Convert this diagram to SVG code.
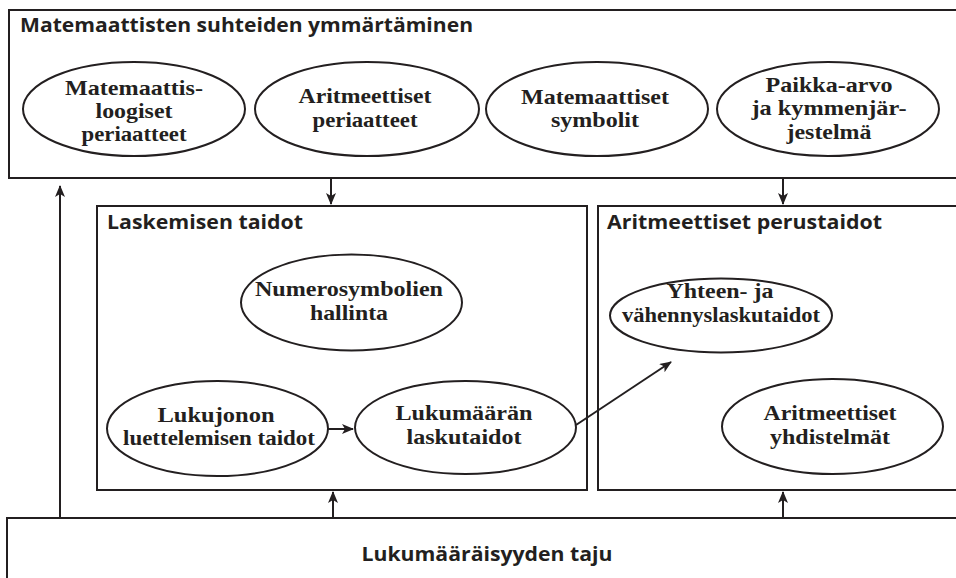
<svg xmlns="http://www.w3.org/2000/svg" width="956" height="578" viewBox="0 0 956 578">
<style>
.box{fill:#fff;stroke:#231f20;stroke-width:2}
.ell{fill:#fff;stroke:#231f20;stroke-width:2}
.ttl{font-family:"Open Sans","Liberation Sans",sans-serif;font-weight:700;font-size:19px;fill:#231f20}
.lbl{font-family:"Liberation Serif","Times New Roman",serif;font-weight:700;font-size:21.5px;fill:#231f20;text-anchor:middle}
.con{stroke:#231f20;stroke-width:2;fill:none;marker-end:url(#ah)}
</style>
<defs>
<marker id="ah" markerWidth="12" markerHeight="10" refX="11" refY="5" orient="auto" markerUnits="userSpaceOnUse">
<path d="M0,0 L12,5 L0,10 L3,5 z" fill="#231f20"/>
</marker>
</defs>
<rect width="956" height="578" fill="#fff"/>

<g id="top">
<rect class="box" x="9" y="10" width="960" height="168"/>
<text class="ttl" x="20" y="32" textLength="453" lengthAdjust="spacingAndGlyphs">Matemaattisten suhteiden ymmärtäminen</text>
</g>
<g id="n-logiset">
<ellipse class="ell" cx="134" cy="109" rx="111" ry="47"/>
<text class="lbl" x="134" y="95" textLength="138" lengthAdjust="spacingAndGlyphs">Matemaattis-</text>
<text class="lbl" x="134" y="118" textLength="77" lengthAdjust="spacingAndGlyphs">loogiset</text>
<text class="lbl" x="134" y="141" textLength="105" lengthAdjust="spacingAndGlyphs">periaatteet</text>
</g>
<g id="n-aritper">
<ellipse class="ell" cx="367" cy="109" rx="112" ry="47"/>
<text class="lbl" x="365" y="103" textLength="133" lengthAdjust="spacingAndGlyphs">Aritmeettiset</text>
<text class="lbl" x="365" y="127" textLength="105" lengthAdjust="spacingAndGlyphs">periaatteet</text>
</g>
<g id="n-symbolit">
<ellipse class="ell" cx="597" cy="109" rx="111" ry="47"/>
<text class="lbl" x="595" y="104" textLength="148" lengthAdjust="spacingAndGlyphs">Matemaattiset</text>
<text class="lbl" x="595" y="127" textLength="88" lengthAdjust="spacingAndGlyphs">symbolit</text>
</g>
<g id="n-paikka">
<ellipse class="ell" cx="828" cy="109" rx="111" ry="47"/>
<text class="lbl" x="829" y="92" textLength="127" lengthAdjust="spacingAndGlyphs">Paikka-arvo</text>
<text class="lbl" x="829" y="115" textLength="155" lengthAdjust="spacingAndGlyphs">ja kymmenjär-</text>
<text class="lbl" x="829" y="139" textLength="85" lengthAdjust="spacingAndGlyphs">jestelmä</text>
</g>

<g id="laskemisen">
<rect class="box" x="97" y="206" width="490" height="284"/>
<text class="ttl" x="107" y="229" textLength="196" lengthAdjust="spacingAndGlyphs">Laskemisen taidot</text>
</g>
<g id="n-numero">
<ellipse class="ell" cx="351.5" cy="302.5" rx="110.5" ry="48"/>
<text class="lbl" x="349" y="296" textLength="188" lengthAdjust="spacingAndGlyphs">Numerosymbolien</text>
<text class="lbl" x="349" y="320" textLength="78" lengthAdjust="spacingAndGlyphs">hallinta</text>
</g>
<g id="n-lukujonon">
<ellipse class="ell" cx="217.5" cy="428.5" rx="110.5" ry="47.5"/>
<text class="lbl" x="216" y="422" textLength="117" lengthAdjust="spacingAndGlyphs">Lukujonon</text>
<text class="lbl" x="219" y="445" textLength="192" lengthAdjust="spacingAndGlyphs">luettelemisen taidot</text>
</g>
<g id="n-lukumaaran">
<ellipse class="ell" cx="465.5" cy="427.5" rx="110.5" ry="46.5"/>
<text class="lbl" x="464" y="420" textLength="137" lengthAdjust="spacingAndGlyphs">Lukumäärän</text>
<text class="lbl" x="464" y="444" textLength="115" lengthAdjust="spacingAndGlyphs">laskutaidot</text>
</g>

<g id="aritperus">
<rect class="box" x="598" y="206" width="370" height="284"/>
<text class="ttl" x="607" y="229" textLength="275" lengthAdjust="spacingAndGlyphs">Aritmeettiset perustaidot</text>
</g>
<g id="n-yhteen">
<ellipse class="ell" cx="721" cy="315.5" rx="111" ry="37"/>
<text class="lbl" x="720" y="298" textLength="107" lengthAdjust="spacingAndGlyphs">Yhteen- ja</text>
<text class="lbl" x="721" y="322" textLength="198" lengthAdjust="spacingAndGlyphs">vähennyslaskutaidot</text>
</g>
<g id="n-yhdistelmat">
<ellipse class="ell" cx="832.5" cy="426.5" rx="110.5" ry="47.5"/>
<text class="lbl" x="830" y="420" textLength="133" lengthAdjust="spacingAndGlyphs">Aritmeettiset</text>
<text class="lbl" x="830" y="444" textLength="120" lengthAdjust="spacingAndGlyphs">yhdistelmät</text>
</g>

<g id="bottom">
<rect class="box" x="7" y="518" width="960" height="80"/>
<text class="ttl" x="487" y="561" text-anchor="middle" textLength="251" lengthAdjust="spacingAndGlyphs">Lukumääräisyyden taju</text>
</g>

<g id="connectors">
<line class="con" x1="331" y1="178" x2="331" y2="204"/>
<line class="con" x1="783" y1="178" x2="783" y2="204"/>
<line class="con" x1="333" y1="518" x2="333" y2="492"/>
<line class="con" x1="783" y1="518" x2="783" y2="492"/>
<line class="con" x1="60" y1="518" x2="60" y2="186"/>
<line class="con" x1="328" y1="429" x2="353" y2="429"/>
<line class="con" x1="576" y1="425" x2="671" y2="362"/>
</g>
</svg>
